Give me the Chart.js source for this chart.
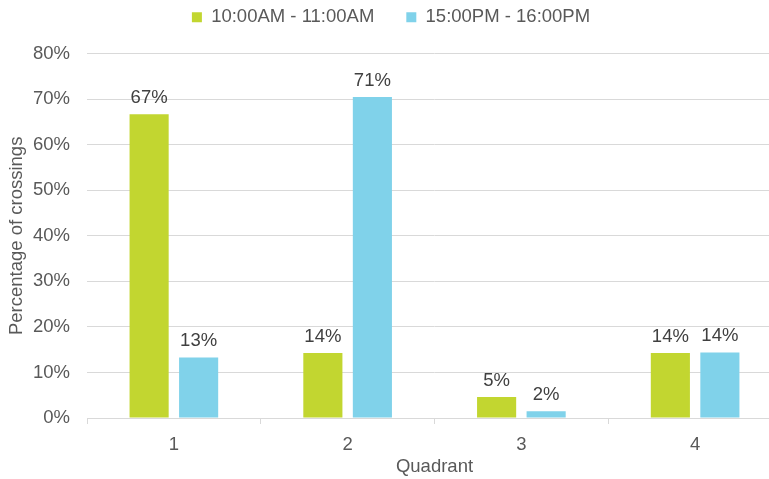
<!DOCTYPE html>
<html>
<head>
<meta charset="utf-8">
<script src="https://cdn.jsdelivr.net/npm/chart.js@4/dist/chart.umd.min.js"></script>
<style>
  html, body { margin: 0; padding: 0; background: #fff; overflow: hidden; }
  #wrap { width: 790px; height: 479px; position: relative; }
</style>
</head>
<body>
<div id="wrap"><canvas id="c"></canvas></div>
<script>
// Share of crossings per quadrant, by time window
const quadrants = ['1', '2', '3', '4'];
const morningLabel = '10:00AM - 11:00AM';
const afternoonLabel = '15:00PM - 16:00PM';
const morningShare = [66.7, 14.3, 4.6, 14.3];
const afternoonShare = [13.3, 70.5, 1.5, 14.4];
const yTicks = [0, 10, 20, 30, 40, 50, 60, 70, 80];

const textColor = '#595959';
const gridColor = '#D9D9D9';
const fontFamily = '"Liberation Sans", Arial, sans-serif';
const fontSize = 18.5;

// Writes the rounded percentage above each bar
const valueLabels = {
  id: 'valueLabels',
  afterDatasetsDraw(chart) {
    const ctx = chart.ctx;
    ctx.save();
    ctx.font = fontSize + 'px ' + fontFamily;
    ctx.fillStyle = '#404040';
    ctx.textAlign = 'center';
    ctx.textBaseline = 'alphabetic';
    chart.data.datasets.forEach((ds, i) => {
      chart.getDatasetMeta(i).data.forEach((bar, j) => {
        ctx.fillText(Math.round(ds.data[j]) + '%', bar.x, bar.y - 11);
      });
    });
    ctx.restore();
  }
};

new Chart(document.getElementById('c'), {
  type: 'bar',
  data: {
    labels: quadrants,
    datasets: [
      { label: morningLabel, data: morningShare, backgroundColor: '#C2D630' },
      { label: afternoonLabel, data: afternoonShare, backgroundColor: '#80D2EA' }
    ]
  },
  options: {
    responsive: true,
    maintainAspectRatio: false,
    animation: false,
    layout: { padding: { top: -24, right: 8, left: 0, bottom: 0 } },
    datasets: { bar: { categoryPercentage: 0.57, barPercentage: 0.79 } },
    plugins: {
      tooltip: { enabled: false },
      legend: {
        position: 'top',
        weight: 2000,
        labels: {
          color: textColor,
          font: { family: fontFamily, size: fontSize },
          boxWidth: 10,
          boxHeight: 10,
          padding: 32
        }
      },
      // empty block that keeps some room between the legend and the plot
      subtitle: {
        display: true,
        text: '',
        weight: 500,
        font: { size: 1 },
        padding: 8
      }
    },
    scales: {
      x: {
        grid: {
          display: true,
          drawOnChartArea: false,
          drawTicks: true,
          tickLength: 6,
          color: gridColor,
          offset: true
        },
        border: { display: true, color: gridColor },
        ticks: { color: textColor, font: { family: fontFamily, size: fontSize }, padding: 10 },
        title: {
          display: true,
          text: 'Quadrant',
          color: textColor,
          font: { family: fontFamily, size: fontSize },
          padding: { top: 2, bottom: 1 }
        },
        afterFit(s) { s.height = 61; }
      },
      y: {
        min: 0,
        max: 80,
        afterBuildTicks(s) { s.ticks = yTicks.map(v => ({ value: v })); },
        grid: { color: gridColor, drawTicks: false },
        border: { display: false },
        ticks: {
          color: textColor,
          font: { family: fontFamily, size: fontSize },
          padding: 17,
          callback: v => v + '%'
        },
        title: {
          display: true,
          text: 'Percentage of crossings',
          color: textColor,
          font: { family: fontFamily, size: fontSize },
          padding: { top: 6, bottom: 2 }
        },
        afterFit(s) { s.width = 87; }
      }
    }
  },
  plugins: [valueLabels]
});
</script>
</body>
</html>
